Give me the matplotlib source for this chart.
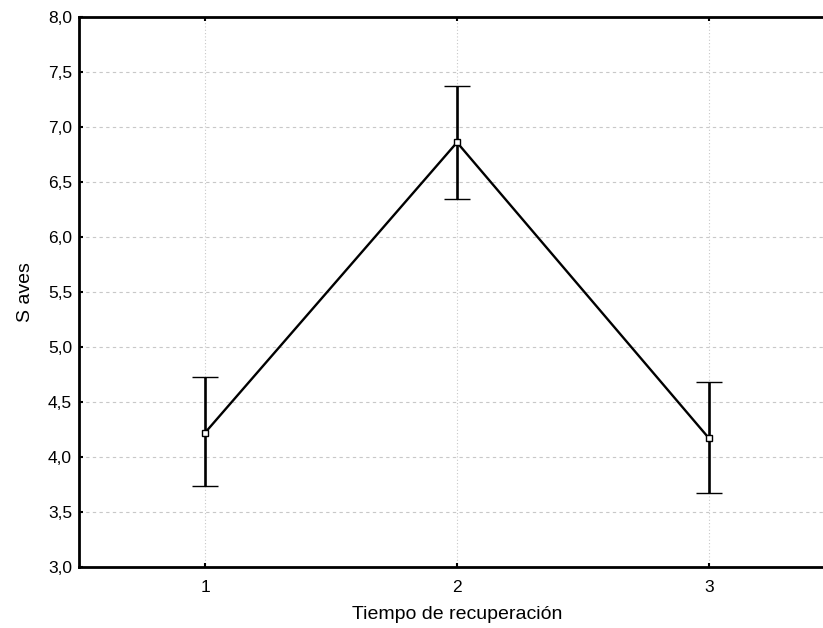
import matplotlib
matplotlib.use("Agg")
import matplotlib.pyplot as plt
from matplotlib.ticker import FuncFormatter

# data
tiempo = [1, 2, 3]
medias = [4.22, 6.86, 4.17]
inferior = [3.74, 6.35, 3.67]
superior = [4.73, 7.37, 4.68]

plt.rcParams['font.family'] = ['Liberation Sans', 'DejaVu Sans']

fig = plt.figure(figsize=(8.23, 6.28), dpi=100)
ax = fig.add_axes([79 / 823, 61 / 628, 756 / 823, 550 / 628])

err = [[m - lo for m, lo in zip(medias, inferior)],
       [hi - m for m, hi in zip(medias, superior)]]

ax.errorbar(tiempo, medias, yerr=err, color='black', lw=1.7, elinewidth=1.9,
            capsize=9.7, capthick=1.9, marker='s', markersize=4,
            markerfacecolor='white', markeredgecolor='black', markeredgewidth=1,
            zorder=3)

ax.set_xlim(0.5, 3.5)
ax.set_ylim(3.0, 8.0)
ax.set_xticks(tiempo)
ax.set_yticks([3.0, 3.5, 4.0, 4.5, 5.0, 5.5, 6.0, 6.5, 7.0, 7.5, 8.0])
ax.yaxis.set_major_formatter(FuncFormatter(lambda v, p: f"{v:.1f}".replace('.', ',')))

ax.grid(axis='y', color='#c8c8c8', linestyle=(0, (3, 3)), lw=0.8)
ax.grid(axis='x', color='#c8c8c8', linestyle=(0, (1, 2)), lw=0.8)
ax.set_axisbelow(True)

for s in ax.spines.values():
    s.set_linewidth(2)
ax.tick_params(direction='in', length=3, width=1.5, labelsize=12.5, top=True)
ax.tick_params(axis='x', pad=9)
ax.tick_params(axis='y', pad=5)

ax.set_xlabel("Tiempo de recuperación", fontsize=14, labelpad=8)
ax.set_ylabel("S aves", fontsize=14, labelpad=10)

fig.savefig("out.png", dpi=100)
